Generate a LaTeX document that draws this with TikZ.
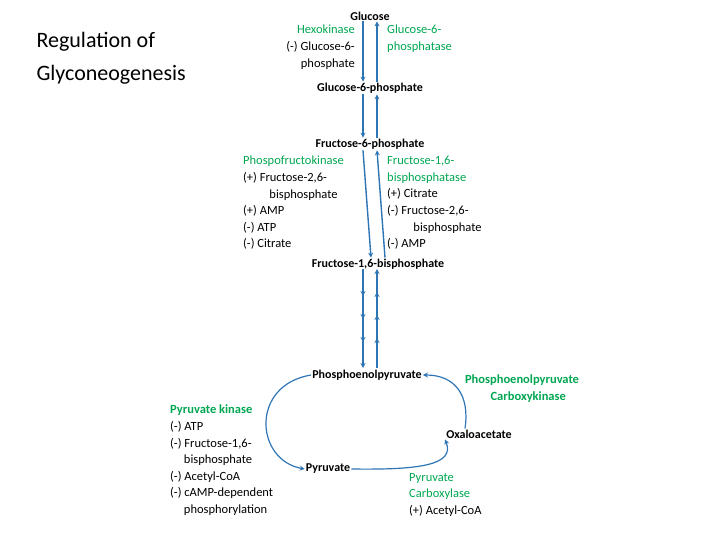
\documentclass[tikz,border=0pt]{standalone}
\usepackage{fontspec}
\setmainfont{Carlito}
\usetikzlibrary{arrows.meta}
\definecolor{pathblue}{HTML}{2E75B6}
\definecolor{enzgreen}{HTML}{00A651}
\begin{document}
\begin{tikzpicture}[x=1pt,y=-1pt,
  met/.style={font=\fontsize{12}{14}\selectfont\bfseries, inner sep=1pt},
  txt/.style={font=\fontsize{12.5}{16.6}\selectfont, inner sep=0pt, align=left},
  flow/.style={pathblue, line width=1.4pt, -{Stealth[length=5pt,width=5pt]}}]
\useasboundingbox (0,0) rectangle (720,540);
\node[anchor=west, font=\fontsize{22}{33}\selectfont, align=left] (title) at (33,58) {Regulation of\\Glyconeogenesis};

\node[met] (glc) at (370,16) {Glucose};
\node[met] (g6p) at (370,88) {Glucose-6-phosphate};
\node[met] (f6p) at (370,144) {Fructose-6-phosphate};
\node[met] (fbp) at (378,264) {Fructose-1,6-bisphosphate};
\node[met] (pep) at (367,375) {Phosphoenolpyruvate};
\node[met] (pyr) at (328,469) {Pyruvate};
\node[met] (oaa) at (479,434) {Oxaloacetate};

\foreach \a/\b in {glc/g6p,g6p/f6p,f6p/fbp}{
  \draw[flow] ([xshift=-7pt]\a.south) -- ([xshift=-7pt]\b.north);
  \draw[flow] ([xshift=7pt]\b.north) -- ([xshift=7pt]\a.south);
}
\coordinate (s0) at (370,271);
\coordinate (s1) at (370,294);
\coordinate (s2) at (370,317);
\coordinate (s3) at (370,340);
\coordinate (s4) at (370,366);
\foreach \a/\b in {s0/s1,s1/s2,s2/s3,s3/s4}{
  \draw[flow] ([xshift=-7pt,yshift=2pt]\a) -- ([xshift=-7pt,yshift=-2pt]\b);
  \draw[flow] ([xshift=7pt,yshift=-2pt]\b) -- ([xshift=7pt,yshift=2pt]\a);
}

\draw[flow, line width=1.2pt] (pep.west) .. controls (250,385) and (255,460) .. (pyr.west);
\draw[flow, line width=1.2pt] (pyr.east) .. controls (420,470) and (455,465) .. (oaa.south west);
\draw[flow, line width=1.2pt] ([xshift=-14pt]oaa.north) .. controls (470,395) and (455,375) .. (pep.east);

\node[txt, anchor=north east, align=right] (hk) at (355,25) {\textcolor{enzgreen}{Hexokinase}\\(-) Glucose-6-\\phosphate};
\node[txt, anchor=north west, enzgreen] (g6pase) at (387,25) {Glucose-6-\\phosphatase};
\node[txt, anchor=north west] (pfk) at (243,156) {\textcolor{enzgreen}{Phospofructokinase}\\(+) Fructose-2,6-\\\hspace*{2.1em}bisphosphate\\(+) AMP\\(-) ATP\\(-) Citrate};
\node[txt, anchor=north west] (fbpase) at (387,156) {\textcolor{enzgreen}{Fructose-1,6-}\\\textcolor{enzgreen}{bisphosphatase}\\(+) Citrate\\(-) Fructose-2,6-\\\hspace*{2.1em}bisphosphate\\(-) AMP};
\node[txt, anchor=north west] (pk) at (170,405) {\textcolor{enzgreen}{\bfseries Pyruvate kinase}\\(-) ATP\\(-) Fructose-1,6-\\\hspace*{1.1em}bisphosphate\\(-) Acetyl-CoA\\(-) cAMP-dependent\\\hspace*{1.1em}phosphorylation};
\node[txt, anchor=north, align=center, enzgreen, font=\fontsize{12.5}{16.6}\selectfont\bfseries] (pepck) at (522,375) {Phosphoenolpyruvate\\\hspace*{1em}Carboxykinase};
\node[txt, anchor=north west] (pc) at (409,473) {\textcolor{enzgreen}{Pyruvate}\\\textcolor{enzgreen}{Carboxylase}\\(+) Acetyl-CoA};
\end{tikzpicture}
\end{document}
